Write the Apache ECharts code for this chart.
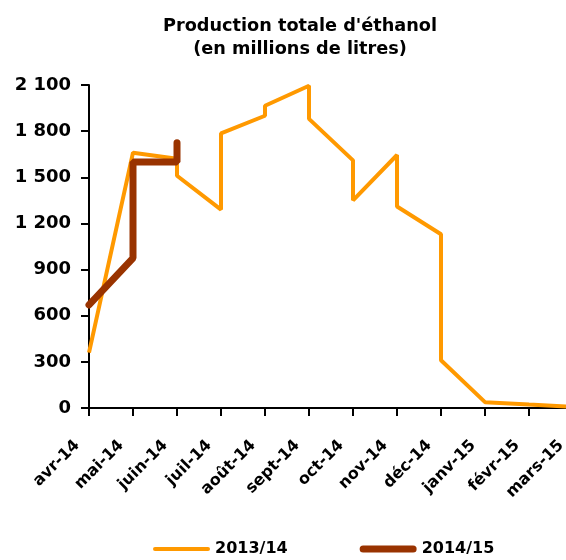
<!DOCTYPE html>
<html>
<head>
<meta charset="utf-8">
<script src="https://cdn.jsdelivr.net/npm/echarts@6/dist/echarts.min.js"></script>
<style>
  html, body { margin: 0; padding: 0; background: #fff; }
  #chart { width: 566px; height: 560px; }
</style>
</head>
<body>
<div id="chart"></div>
<script>
// mois (axe des x)
var months = ['avr-14', 'mai-14', 'juin-14', 'juil-14', 'août-14', 'sept-14',
              'oct-14', 'nov-14', 'déc-14', 'janv-15', 'févr-15', 'mars-15'];

// 2013/14 : position du mois + valeur (deux valeurs par mois = saut vertical)
var pos1314 = [0, 1, 2, 2, 3, 3, 4, 4, 5, 5, 6, 6, 7, 7, 8, 8, 9, 10, 11];
var val1314 = [360, 1660, 1620, 1510, 1290, 1785, 1900, 1965, 2095, 1880,
               1610, 1350, 1645, 1310, 1130, 310, 38, 22, 7];

// 2014/15
var pos1415 = [0, 1, 1, 2, 2];
var val1415 = [670, 975, 1600, 1600, 1725];

var yTicks = { min: 0, max: 2100, interval: 300 };

function pairs(xs, ys) {
    return xs.map(function (x, i) { return [x, ys[i]]; });
}

var chart = echarts.init(document.getElementById('chart'));
chart.setOption({
    animation: false,
    textStyle: { fontFamily: 'DejaVu Sans' },
    title: {
        text: "Production totale d'éthanol\n(en millions de litres)",
        left: 295,
        textAlign: 'center',
        top: 10,
        textStyle: {
            fontFamily: 'DejaVu Sans',
            fontWeight: 'bold',
            fontSize: 17.7,
            lineHeight: 23,
            color: '#000'
        }
    },
    legend: {
        left: 148,
        top: 536,
        itemWidth: 57,
        itemHeight: 14,
        itemGap: 72,
        textStyle: { fontFamily: 'DejaVu Sans', fontWeight: 'bold', fontSize: 16, color: '#000' },
        data: [
            { name: '2013/14', icon: 'path://M2,0 L55,0 A2,2 0 0 1 55,4 L2,4 A2,2 0 0 1 2,0 Z' },
            { name: '2014/15', icon: 'path://M3.5,0 L53.5,0 A3.5,3.5 0 0 1 53.5,7 L3.5,7 A3.5,3.5 0 0 1 3.5,0 Z' }
        ]
    },
    grid: { left: 89, width: 484, top: 85, bottom: 152, outerBoundsMode: 'none', containLabel: false },
    xAxis: {
        type: 'category',
        data: months,
        boundaryGap: false,
        axisLine: { lineStyle: { color: '#000', width: 2 } },
        axisTick: { show: true, length: 8, lineStyle: { color: '#000', width: 2 } },
        axisLabel: {
            rotate: 45,
            margin: 23,
            interval: 0,
            color: '#000',
            fontFamily: 'DejaVu Sans',
            fontWeight: 'bold',
            fontSize: 16,
            formatter: function (v) { return v + '   '; }
        },
        splitLine: { show: false }
    },
    yAxis: {
        type: 'value',
        min: yTicks.min,
        max: yTicks.max,
        interval: yTicks.interval,
        axisLine: { show: true, lineStyle: { color: '#000', width: 2 } },
        axisTick: { show: true, length: 8, lineStyle: { color: '#000', width: 2 } },
        axisLabel: {
            margin: 18,
            color: '#000',
            fontFamily: 'DejaVu Sans',
            fontWeight: 'bold',
            fontSize: 18,
            formatter: function (v) {
                return String(v).replace(/\B(?=(\d{3})+(?!\d))/g, ' ');
            }
        },
        splitLine: { show: false }
    },
    series: [
        {
            name: '2013/14',
            type: 'line',
            data: pairs(pos1314, val1314),
            symbol: 'none',
            color: '#FF9900',
            lineStyle: { color: '#FF9900', width: 4 }
        },
        {
            name: '2014/15',
            type: 'line',
            data: pairs(pos1415, val1415),
            symbol: 'none',
            color: '#993300',
            lineStyle: { color: '#993300', width: 7, cap: 'round' }
        }
    ]
});
</script>
</body>
</html>
